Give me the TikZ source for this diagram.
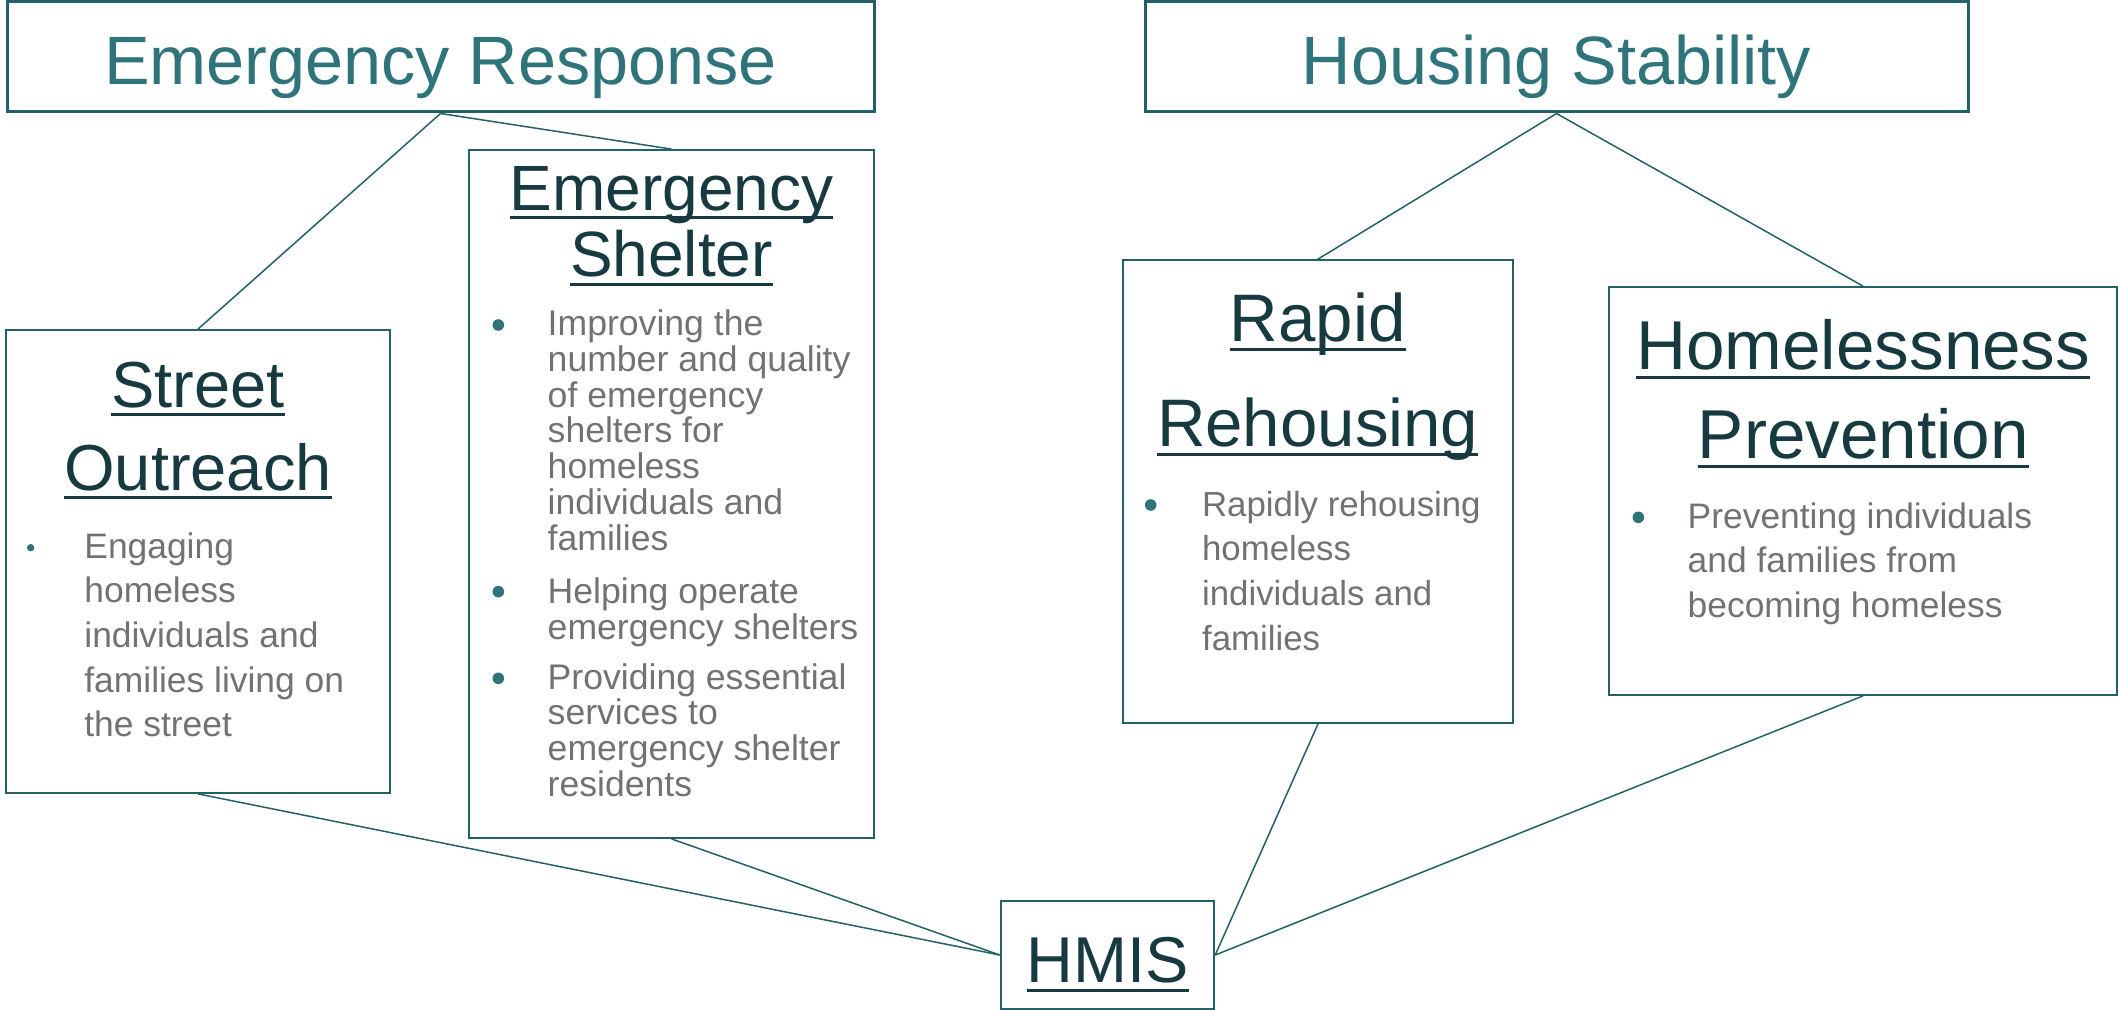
\documentclass[tikz,border=0pt]{standalone}
\usepackage{fontspec}
\setmainfont{Liberation Sans}
\usepackage{xcolor}
\usetikzlibrary{fit}
\definecolor{titleteal}{RGB}{46,116,122}
\definecolor{headteal}{RGB}{23,58,64}
\definecolor{bodygray}{RGB}{118,113,113}
\definecolor{edgeteal}{RGB}{36,96,103}
\newcommand\headline[1]{\setbox0\hbox{#1}\rlap{\rule[-0.14em]{\wd0}{0.045em}}\box0}
\tikzset{
  titlebox/.style={draw=edgeteal, line width=1.5pt, inner sep=0pt},
  cardbox/.style={draw=edgeteal, line width=0.9pt, inner sep=0pt},
  link/.style={draw=edgeteal, line width=0.75pt},
  maintitle/.style={text=titleteal, font=\fontsize{34.2}{40}\selectfont, inner sep=0pt, anchor=base},
  cardtitle/.style={text=headteal, align=center, inner sep=0pt, anchor=base},
  cardtext/.style={text=bodygray, align=left, inner sep=0pt, anchor=base west, font=\fontsize{17.7}{22.3}\selectfont}
}
\begin{document}
\begin{tikzpicture}[x=0.5pt,y=-0.5pt]
  \useasboundingbox (0,0) rectangle (2118,1010);
  \node[titlebox, fit={(7,2)(874,112)}] (er) {};
  \node[titlebox, fit={(1145,2)(1968,112)}] (hs) {};
  \node[cardbox, fit={(6,330)(390,793)}] (so) {};
  \node[cardbox, fit={(469,150)(874,838)}] (es) {};
  \node[cardbox, fit={(1123,260)(1513,723)}] (rr) {};
  \node[cardbox, fit={(1609,287)(2117,695)}] (hp) {};
  \node[cardbox, line width=1.2pt, fit={(1001,901)(1214,1009)}] (hmis) {};

  \node[maintitle] (ert) at (440.5,85) {Emergency Response};
  \node[maintitle] (hst) at (1556.5,85) {Housing Stability};
  \node[cardtitle, font=\fontsize{32.5}{41.35}\selectfont] (sot) at (198,490) {\headline{Street}\\\headline{Outreach}};
  \node[cardtitle, font=\fontsize{32}{33.3}\selectfont] (est) at (671.5,276.7) {\headline{Emergency}\\\headline{Shelter}};
  \node[cardtitle, font=\fontsize{33.6}{52.5}\selectfont] (rrt) at (1317.7,446.7) {\headline{Rapid}\\\headline{Rehousing}};
  \node[cardtitle, font=\fontsize{34.6}{44.5}\selectfont] (hpt) at (1863.3,458.3) {\headline{Homelessness}\\\headline{Prevention}};
  \node[cardtitle, font=\fontsize{32.4}{40}\selectfont] (hmist) at (1107.5,982.7) {\headline{HMIS}};

  \node[cardtext] (sotx) at (84,736.7) {Engaging\\homeless\\individuals and\\families living on\\the street};
  \node[cardtext, font=\fontsize{17.8}{17.85}\selectfont] (estx) at (547.3,796.2) {Improving the\\number and quality\\of emergency\\shelters for\\homeless\\individuals and\\families\\[8.85pt]Helping operate\\emergency shelters\\[7.15pt]Providing essential\\services to\\emergency shelter\\residents};
  \node[cardtext, font=\fontsize{17.4}{22.3}\selectfont] (rrtx) at (1201.7,650) {Rapidly rehousing\\homeless\\individuals and\\families};
  \node[cardtext] (hptx) at (1687.3,617.3) {Preventing individuals\\and families from\\becoming homeless};

  \foreach \bx/\by/\br in {30.7/547.7/3.7, 498.3/325/5.8, 498.3/591.7/5.8, 498.3/678.3/5.8, 1150.7/505/5.8, 1638.3/517.3/5.8}
  \fill[titleteal] (\bx,\by) circle (\br);

  \draw[link] (er.south) -- (so.north);
  \draw[link] (er.south) -- (es.north);
  \draw[link] (hs.south) -- (rr.north);
  \draw[link] (hs.south) -- (hp.north);
  \foreach \c in {so,es}
  \draw[link] (\c.south) -- (hmis.west);
  \foreach \c in {rr,hp}
  \draw[link] (\c.south) -- (hmis.east);
\end{tikzpicture}
\end{document}
